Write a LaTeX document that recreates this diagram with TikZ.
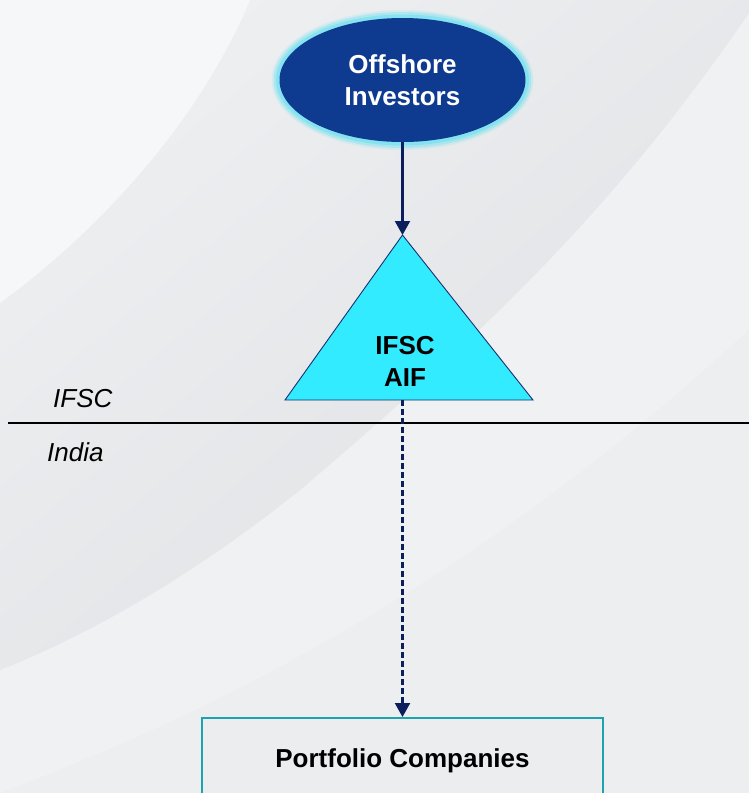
\documentclass[tikz,border=0pt]{standalone}
\usepackage{fontspec}
\setmainfont{Liberation Sans}
\usetikzlibrary{arrows.meta,shapes.geometric}
\definecolor{bgbase}{HTML}{EDEEF0}
\definecolor{bglight}{HTML}{F6F7F8}
\definecolor{bglow}{HTML}{F0F1F3}
\definecolor{bandtop}{HTML}{EEEFF1}
\definecolor{bandbot}{HTML}{DFE1E4}
\definecolor{invblue}{HTML}{0E3A8F}
\definecolor{glowc}{HTML}{7FE3F0}
\definecolor{tricyan}{HTML}{33EBFF}
\definecolor{triborder}{HTML}{1B2F6E}
\definecolor{navy}{HTML}{0A1F5C}
\definecolor{teal}{HTML}{1CA3AE}
\definecolor{boxfill}{HTML}{ECEDEF}
\tikzset{
  bigtext/.style={font=\fontsize{26}{32}\selectfont\bfseries},
  invst/.style={ellipse, fill=invblue, minimum width=246pt, minimum height=124pt, inner sep=0pt, text=white, bigtext, align=center},
  tri/.style={fill=tricyan, draw=triborder, line width=0.9pt, line join=miter},
  solidarrow/.style={draw=navy, line width=2.2pt, -{Triangle[width=15pt,length=14pt]}},
  dasharrow/.style={draw=navy, line width=2.2pt, dash pattern=on 6pt off 3pt, -{Triangle[width=15pt,length=14pt]}},
  boxst/.style={rectangle, draw=teal, fill=boxfill, line width=1.8pt, minimum width=401pt, minimum height=87pt, inner sep=0pt, text height=18pt, text depth=5pt, bigtext, text=black},
  regionlabel/.style={font=\fontsize{26}{32}\selectfont\itshape, anchor=base west, inner sep=0pt, text=black},
}
\begin{document}
\begin{tikzpicture}[x=1pt,y=-1pt]
\useasboundingbox (0,0) rectangle (749,793);
\clip (0,0) rectangle (749,793);
% background
\fill[bgbase] (0,0) rectangle (749,793);
\fill[bglow] (0,670) .. controls (100,630) and (200,570) .. (300,490) .. controls (500,320) and (620,200) .. (749,13) -- (749,793) -- (0,793) -- cycle;
\fill[bgbase] (0,793) .. controls (250,700) and (500,560) .. (749,330) -- (749,793) -- cycle;
\shade[top color=bandtop, bottom color=bandbot, shading angle=40]
  (0,303) .. controls (100,230) and (200,120) .. (250,0) -- (749,0) -- (749,13)
  .. controls (620,200) and (500,320) .. (300,490)
  .. controls (200,570) and (100,630) .. (0,670) -- cycle;
\fill[bglight] (0,0) -- (250,0) .. controls (200,120) and (100,230) .. (0,303) -- cycle;
% glow around ellipse
\fill[glowc, opacity=0.20] (402.5,80) ellipse [x radius=131, y radius=70];
\fill[glowc, opacity=0.45] (402.5,80) ellipse [x radius=129, y radius=68];
\fill[glowc, opacity=0.85] (402.5,80) ellipse [x radius=126.5, y radius=65.5];
% nodes
\node[invst] (inv) at (402.5,80) {Offshore\\Investors};
\coordinate (apex) at (402.5,235);
\coordinate (bl) at (285,400);
\coordinate (br) at (533,400);
\coordinate (basemid) at (402.5,400);
\filldraw[tri] (apex) -- (br) -- (bl) -- cycle;
\node[bigtext, align=center, text=black, inner sep=0pt] (aif) at (405,361) {IFSC\\AIF};
% divider
\coordinate (hl) at (8,423);
\coordinate (hr) at (749,423);
\draw[line width=1.8pt, black] (hl) -- (hr);
\node[regionlabel] (lifsc) at (53,407) {IFSC};
\node[regionlabel] (lindia) at (47,461) {India};
% bottom box
\node[boxst, anchor=north] (pc) at (402.5,717) {Portfolio Companies};
% connectors
\draw[solidarrow] (inv.south) -- (apex);
\draw[dasharrow] (basemid) -- (pc.north);
\end{tikzpicture}
\end{document}
